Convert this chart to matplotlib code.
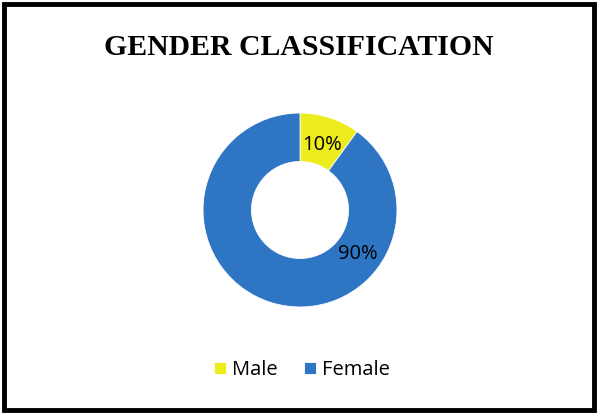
import numpy as np
import matplotlib.pyplot as plt
from matplotlib.patches import Rectangle

labels = ['Male', 'Female']
values = [10, 90]
colors = ['#EDED1E', '#2E76C4']
# angle (deg) where the 90% label sits, as in the source chart
female_label_angle = -37

fig = plt.figure(figsize=(5.98, 4.13), dpi=100)
fig.patch.set_facecolor('white')

# thick black frame around the chart
fig.patches.append(Rectangle((0.006, 0.008), 0.988, 0.983, transform=fig.transFigure,
                             fill=False, edgecolor='black', linewidth=3.5))

fig.text(0.5, 0.885, 'GENDER CLASSIFICATION', ha='center', va='center',
         fontsize=21.4, fontweight='bold', family='Liberation Serif')

ax = fig.add_axes([0.3395, 0.2567, 0.3244, 0.4697])
wedges, texts = ax.pie(values, colors=colors, startangle=90, counterclock=False,
                       radius=1.0, wedgeprops=dict(width=0.5, edgecolor='white', linewidth=0.6))
ax.set_aspect('equal')
ax.set_xlim(-1, 1)
ax.set_ylim(-1, 1)

total = sum(values)
mid = 90 - values[0] / total * 360 / 2
r = 0.75
ax.text(r * np.cos(np.radians(mid)), r * np.sin(np.radians(mid)) - 0.04,
        f'{values[0]}%', ha='center', va='center', fontsize=14.5, family='Open Sans')
ax.text(r * np.cos(np.radians(female_label_angle)), r * np.sin(np.radians(female_label_angle)),
        f'{values[1]}%', ha='center', va='center', fontsize=14.5, family='Open Sans')

fig.legend(wedges, labels, loc='center', bbox_to_anchor=(0.505, 0.104), ncol=2,
           frameon=False, handlelength=0.6, handleheight=0.6, handletextpad=0.3,
           columnspacing=1.3, prop={'family': 'Open Sans', 'size': 14.5})

fig.savefig('out.png', dpi=100)
